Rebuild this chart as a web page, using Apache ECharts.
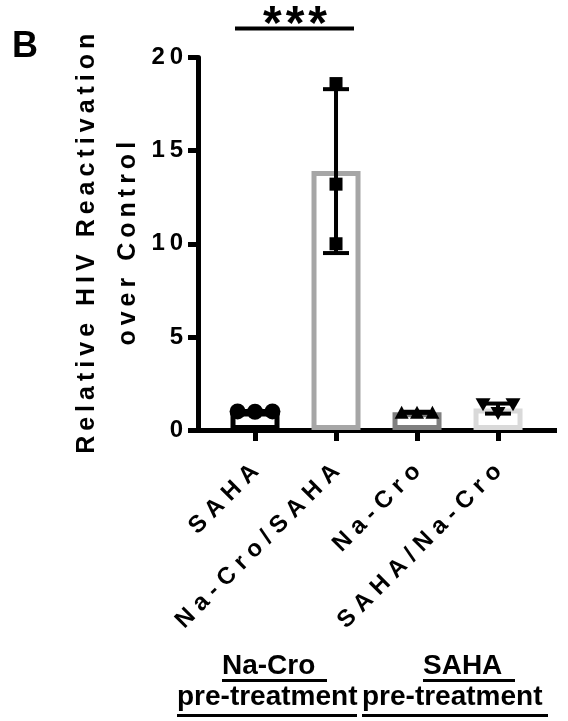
<!DOCTYPE html>
<html>
<head>
<meta charset="utf-8">
<script src="https://cdn.jsdelivr.net/npm/echarts@6/dist/echarts.min.js"></script>
<style>
html,body{margin:0;padding:0;background:#fff;}
#chart{width:568px;height:721px;}
</style>
</head>
<body>
<div id="chart"></div>
<script>
// ---- data ----
const categories = ['SAHA', 'Na-Cro/SAHA', 'Na-Cro', 'SAHA/Na-Cro'];
const barMeans = [1.0, 13.9, 0.95, 1.15];
const barSD = [0.02, 4.4, 0.03, 0.27];
const replicate1 = [1.0, 18.6, 0.95, 1.35];
const replicate2 = [0.98, 13.2, 0.95, 0.88];
const replicate3 = [1.0, 10.0, 0.95, 1.35];
const yTickValues = [0, 5, 10, 15, 20];
const yTitle = ['Relative HIV Reactivation', 'over Control'];
const groupLabels = [['Na-Cro ', 'pre-treatment'], ['SAHA ', 'pre-treatment']];
const significance = '***';

// ---- presentation ----
const FONT = '"Liberation Sans", Arial, Helvetica, sans-serif';
const barBorder = ['#000000', '#a6a6a6', '#7f7f7f', '#d9d9d9'];
const pointSymbols = ['circle', 'rect', 'triangle', 'path://M0,0 L10,0 L5,9 Z'];
const pointSizes = [16, 13, [14, 13], [15, 13]];
const spreadOf = [0.215, 0, 0.19, 0.185];

const spaced = (s, sep) => s.split('').join(sep);

const barData = categories.map((c, i) => ({
  value: [i, barMeans[i]],
  itemStyle: { color: '#ffffff', borderColor: barBorder[i], borderWidth: 5 }
}));
const errData = categories.map((c, i) => [i, barMeans[i], barSD[i]]);

const reps = [replicate1, replicate2, replicate3];
const scatterSeries = categories.map((c, i) => ({
  type: 'scatter',
  name: c,
  symbol: pointSymbols[i],
  symbolSize: pointSizes[i],
  itemStyle: { color: '#000', opacity: 1 },
  z: 5,
  data: reps.map((r, k) => [i + (k - 1) * spreadOf[i], r[i]])
}));

const chart = echarts.init(document.getElementById('chart'), null, { renderer: 'canvas' });

const option = {
  animation: false,
  backgroundColor: '#ffffff',
  grid: { left: 190, right: 11, top: 57.5, bottom: 291 },
  xAxis: {
    type: 'value',
    min: -0.8025,
    max: 3.728,
    splitLine: { show: false },
    axisLine: { show: true, onZero: false, lineStyle: { color: '#000', width: 5, cap: 'butt' } },
    axisTick: { show: true, customValues: [0, 1, 2, 3], length: 11, lineStyle: { color: '#000', width: 5 } },
    axisLabel: {
      customValues: [0, 1, 2, 3],
      formatter: v => spaced(categories[Math.round(v)], ' '),
      rotate: 45,
      margin: 38,
      color: '#000',
      fontSize: 24,
      fontWeight: 'bold',
      fontFamily: FONT
    }
  },
  yAxis: {
    type: 'value',
    min: yTickValues[0],
    max: yTickValues[yTickValues.length - 1],
    interval: 5,
    offset: -8,
    splitLine: { show: false },
    axisLine: { show: true, onZero: false, lineStyle: { color: '#000', width: 5 } },
    axisTick: { show: true, length: 10, lineStyle: { color: '#000', width: 5 } },
    axisLabel: {
      formatter: v => spaced(String(v), '\u2009'),
      margin: 15,
      color: '#000',
      fontSize: 24,
      fontWeight: 'bold',
      fontFamily: FONT
    },
    name: yTitle.map(t => spaced(t, '\u2009')).join('\n'),
    nameLocation: 'middle',
    nameMoveOverlap: false,
    nameGap: 49,
    nameTextStyle: {
      color: '#000',
      fontSize: 25,
      fontWeight: 'bold',
      fontFamily: FONT,
      lineHeight: 41
    }
  },
  series: [
    {
      type: 'bar',
      barWidth: 49,
      data: barData,
      z: 2
    },
    {
      type: 'custom',
      z: 4,
      data: errData,
      renderItem: function (params, api) {
        const x = api.value(0), m = api.value(1), sd = api.value(2);
        const top = api.coord([x, m + sd]);
        const bot = api.coord([x, m - sd]);
        const cap = 13;
        const st = { stroke: '#000', lineWidth: 4 };
        return {
          type: 'group',
          children: [
            { type: 'line', shape: { x1: top[0], y1: top[1], x2: bot[0], y2: bot[1] }, style: st },
            { type: 'line', shape: { x1: top[0] - cap, y1: top[1], x2: top[0] + cap, y2: top[1] }, style: st },
            { type: 'line', shape: { x1: bot[0] - cap, y1: bot[1], x2: bot[0] + cap, y2: bot[1] }, style: st }
          ]
        };
      }
    }
  ].concat(scatterSeries),
  graphic: [
    { type: 'text', left: 12, top: 29, style: { text: 'B', font: 'bold 36px ' + FONT, fill: '#000' } },
    { type: 'line', shape: { x1: 235, y1: 28.5, x2: 354, y2: 28.5 }, style: { stroke: '#000', lineWidth: 4 } },
    { type: 'text', x: 295, y: 26, style: { text: spaced(significance, '\u200A'), font: 'bold 48px ' + FONT, fill: '#000', align: 'center', verticalAlign: 'middle' } },
    // group labels
    { type: 'text', x: 222, y: 666.5, style: { text: groupLabels[0][0], font: 'bold 28px ' + FONT, fill: '#000', align: 'left', verticalAlign: 'middle' } },
    { type: 'line', shape: { x1: 222, y1: 680.5, x2: 327, y2: 680.5 }, style: { stroke: '#000', lineWidth: 3 } },
    { type: 'text', x: 177, y: 697, style: { text: groupLabels[0][1], font: 'bold 28px ' + FONT, fill: '#000', align: 'left', verticalAlign: 'middle' } },
    { type: 'line', shape: { x1: 177, y1: 715.5, x2: 357, y2: 715.5 }, style: { stroke: '#000', lineWidth: 3 } },
    { type: 'text', x: 423, y: 666.5, style: { text: groupLabels[1][0], font: 'bold 28px ' + FONT, fill: '#000', align: 'left', verticalAlign: 'middle' } },
    { type: 'line', shape: { x1: 423, y1: 680.5, x2: 515, y2: 680.5 }, style: { stroke: '#000', lineWidth: 3 } },
    { type: 'text', x: 362, y: 697, style: { text: groupLabels[1][1], font: 'bold 28px ' + FONT, fill: '#000', align: 'left', verticalAlign: 'middle' } },
    { type: 'line', shape: { x1: 362, y1: 715.5, x2: 548, y2: 715.5 }, style: { stroke: '#000', lineWidth: 3 } }
  ]
};
chart.setOption(option);
</script>
</body>
</html>
